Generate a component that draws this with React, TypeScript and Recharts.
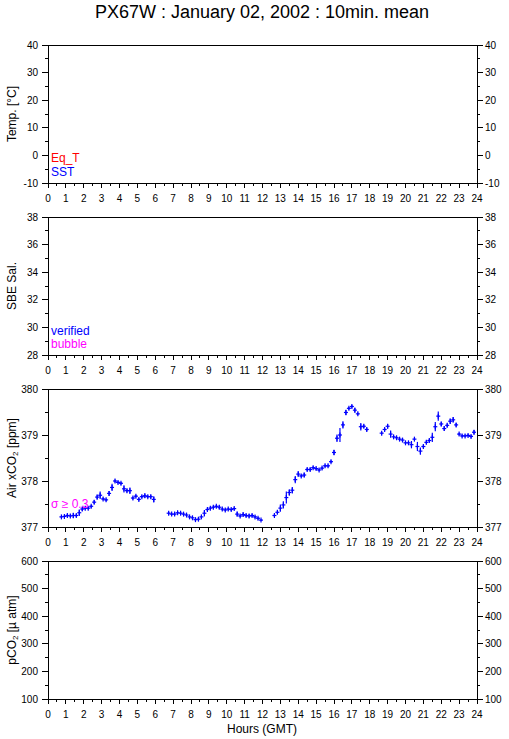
import React from 'react';
import { ScatterChart, Scatter, XAxis, YAxis, ErrorBar } from 'recharts';

// ---------- data ----------
const hourTicks = [0, 0.5, 1, 1.5, 2, 2.5, 3, 3.5, 4, 4.5, 5, 5.5, 6, 6.5, 7, 7.5, 8, 8.5, 9, 9.5, 10, 10.5, 11, 11.5, 12, 12.5, 13, 13.5, 14, 14.5, 15, 15.5, 16, 16.5, 17, 17.5, 18, 18.5, 19, 19.5, 20, 20.5, 21, 21.5, 22, 22.5, 23, 23.5, 24];

const tempTicks = [-10, -5, 0, 5, 10, 15, 20, 25, 30, 35, 40];
const tempLabels = [-10, 0, 10, 20, 30, 40];
const salTicks = [28, 29, 30, 31, 32, 33, 34, 35, 36, 37, 38];
const salLabels = [28, 30, 32, 34, 36, 38];
const xco2Ticks = [377, 377.5, 378, 378.5, 379, 379.5, 380];
const xco2Labels = [377, 378, 379, 380];
const pco2Ticks = [100, 150, 200, 250, 300, 350, 400, 450, 500, 550, 600];
const pco2Labels = [100, 200, 300, 400, 500, 600];

// sample times (hours GMT), 10-minute means
const hours = [
  0.75, 0.917, 1.083, 1.25, 1.417, 1.583, 1.75, 1.917, 2.083, 2.25, 2.417, 2.583, 2.75, 2.917, 3.083, 3.25,
  3.417, 3.583, 3.75, 3.917, 4.083, 4.25, 4.417, 4.583, 4.75, 4.917, 5.083, 5.25, 5.417, 5.583, 5.75, 5.917,
  6.75, 6.917, 7.083, 7.25, 7.417, 7.583, 7.75, 7.917, 8.083, 8.25, 8.417, 8.583, 8.75, 8.917, 9.083, 9.25,
  9.417, 9.583, 9.75, 9.917, 10.083, 10.25, 10.417, 10.583, 10.75, 10.917, 11.083, 11.25, 11.417, 11.583, 11.75, 11.917,
  12.667, 12.833, 13.0, 13.167, 13.333, 13.5, 13.667, 13.833, 14.0, 14.167, 14.333, 14.5, 14.667, 14.833, 15.0, 15.167,
  15.333, 15.5, 15.667, 15.833, 16.0, 16.167, 16.333, 16.5, 16.667, 16.833, 17.0, 17.167, 17.333, 17.5, 17.667, 17.833,
  18.667, 18.833, 19.0, 19.167, 19.333, 19.5, 19.667, 19.833, 20.0, 20.167, 20.333, 20.5, 20.667, 20.833, 21.0, 21.167,
  21.333, 21.5, 21.667, 21.833, 22.0, 22.167, 22.333, 22.5, 22.667, 22.833, 23.0, 23.167, 23.333, 23.5, 23.667, 23.833,
];

// Air xCO2 [ppm]
const xco2 = [
  377.22, 377.23, 377.25, 377.24, 377.25, 377.25, 377.31, 377.39, 377.41, 377.41, 377.45, 377.54, 377.65, 377.69, 377.61, 377.59,
  377.73, 377.86, 378.0, 377.97, 377.95, 377.83, 377.79, 377.79, 377.63, 377.67, 377.6, 377.66, 377.68, 377.66, 377.66, 377.6,
  377.3, 377.28, 377.28, 377.31, 377.3, 377.28, 377.26, 377.22, 377.2, 377.16, 377.17, 377.22, 377.3, 377.38, 377.41, 377.43,
  377.45, 377.43, 377.39, 377.37, 377.39, 377.38, 377.4, 377.28, 377.24, 377.27, 377.25, 377.24, 377.25, 377.22, 377.19, 377.15,
  377.25, 377.32, 377.41, 377.48, 377.64, 377.75, 377.8, 378.03, 378.15, 378.11, 378.13, 378.25, 378.25, 378.29, 378.27, 378.24,
  378.28, 378.33, 378.33, 378.42, 378.62, 378.93, 379.0, 379.22, 379.49, 379.58, 379.62, 379.54, 379.46, 379.18, 379.19, 379.12,
  379.04, 379.12, 379.19, 379.02, 378.96, 378.94, 378.91, 378.89, 378.83, 378.83, 378.79, 378.91, 378.75, 378.65, 378.75, 378.84,
  378.88, 378.95, 379.18, 379.41, 379.24, 379.14, 379.21, 379.3, 379.33, 379.22, 379.02, 378.98, 378.98, 378.99, 378.97, 379.06,
];

// standard deviation of each 10-min mean [ppm]
const xco2Sd = [
  0.02, 0.02, 0.03, 0.03, 0.06, 0.03, 0.07, 0.04, 0.03, 0.03, 0.03, 0.04, 0.05, 0.08, 0.03, 0.03,
  0.05, 0.08, 0.03, 0.03, 0.03, 0.08, 0.04, 0.07, 0.03, 0.03, 0.03, 0.03, 0.05, 0.03, 0.04, 0.07,
  0.03, 0.03, 0.03, 0.03, 0.03, 0.03, 0.03, 0.03, 0.03, 0.03, 0.04, 0.03, 0.07, 0.03, 0.03, 0.03,
  0.03, 0.04, 0.03, 0.03, 0.03, 0.03, 0.03, 0.05, 0.03, 0.04, 0.03, 0.04, 0.03, 0.03, 0.03, 0.02,
  0.03, 0.04, 0.08, 0.08, 0.13, 0.07, 0.07, 0.08, 0.06, 0.03, 0.05, 0.03, 0.03, 0.03, 0.03, 0.03,
  0.03, 0.03, 0.03, 0.03, 0.06, 0.08, 0.15, 0.08, 0.06, 0.03, 0.03, 0.05, 0.03, 0.08, 0.04, 0.04,
  0.03, 0.03, 0.05, 0.08, 0.03, 0.03, 0.04, 0.04, 0.03, 0.03, 0.08, 0.03, 0.1, 0.08, 0.04, 0.04,
  0.04, 0.1, 0.1, 0.1, 0.05, 0.05, 0.04, 0.06, 0.06, 0.04, 0.03, 0.03, 0.03, 0.03, 0.03, 0.05,
];

const eqTemp: { h: number; v: number }[] = [];
const sst: { h: number; v: number }[] = [];
const salVerified: { h: number; v: number }[] = [];
const salBubble: { h: number; v: number }[] = [];
const pco2: { h: number; v: number }[] = [];

const xco2Data = hours.map((h, i) => ({ h, v: xco2[i], e: xco2Sd[i] }));

// ---------- styling ----------
const FONT = '"Liberation Sans", Arial, Helvetica, sans-serif';
const BLUE = '#0000ff';
const MAGENTA = '#ff00ff';
const RED = '#ff0000';

const W = 509;
const PLOT_LEFT = 48;
const PLOT_RIGHT = 477;
const PLOT_H = 138;
const TOP_AX = 10;
const BOT_AX = 30;

const XTickBottom = (props: any) => {
  const { x, y, payload } = props;
  const v = payload.value;
  const major = Number.isInteger(v);
  return (
    <g>
      <line x1={x} x2={x} y1={y} y2={y + (major ? 5 : 3)} stroke="#000" shapeRendering="crispEdges" />
      {major && (
        <text x={x} y={y + 19} textAnchor="middle" fontSize={10} fontFamily={FONT} fill="#000">
          {v}
        </text>
      )}
    </g>
  );
};

const XTickTop = (props: any) => {
  const { x, y, payload } = props;
  const major = Number.isInteger(payload.value);
  return <line x1={x} x2={x} y1={y} y2={y - (major ? 5 : 3)} stroke="#000" shapeRendering="crispEdges" />;
};

const makeYTick = (labels: number[], side: 'left' | 'right') => (props: any) => {
  const { x, y, payload } = props;
  const v = payload.value;
  const major = labels.includes(v);
  const len = major ? 6 : 3;
  const s = side === 'left' ? -1 : 1;
  return (
    <g>
      <line x1={x} x2={x + s * len} y1={y} y2={y} stroke="#000" shapeRendering="crispEdges" />
      {major && (
        <text
          x={side === 'left' ? x - 10 : x + 8}
          y={y}
          dy="0.35em"
          textAnchor={side === 'left' ? 'end' : 'start'}
          fontSize={10}
          fontFamily={FONT}
          fill="#000"
        >
          {v}
        </text>
      )}
    </g>
  );
};

const Cross = (props: any) => {
  const { cx, cy } = props;
  if (cx == null || cy == null) return <g />;
  return (
    <g>
      <line x1={cx - 2} x2={cx + 2} y1={cy} y2={cy} stroke={BLUE} strokeWidth={1.2} />
      <line x1={cx} x2={cx} y1={cy - 2.5} y2={cy + 2.5} stroke={BLUE} strokeWidth={1.2} />
    </g>
  );
};

type PanelProps = {
  top: number;
  domain: [number, number];
  ticks: number[];
  labels: number[];
  children?: React.ReactNode;
};

const axisLine = { stroke: '#000', strokeWidth: 1, shapeRendering: 'crispEdges' } as any;

const Panel = ({ top, domain, ticks, labels, children }: PanelProps) => (
  <div style={{ position: 'absolute', left: 0, top: top - TOP_AX }}>
    <ScatterChart
      width={W}
      height={TOP_AX + PLOT_H + BOT_AX}
      margin={{ top: 0, right: 0, bottom: 0, left: 0 }}
      style={{ overflow: 'visible' }}
    >
      <XAxis
        xAxisId="bottom"
        dataKey="h"
        type="number"
        domain={[0, 24]}
        ticks={hourTicks}
        interval={0}
        orientation="bottom"
        height={BOT_AX}
        tickSize={0}
        tickMargin={0}
        tickLine={false}
        axisLine={axisLine}
        tick={<XTickBottom />}
        allowDataOverflow
      />
      <XAxis
        xAxisId="top"
        type="number"
        domain={[0, 24]}
        ticks={hourTicks}
        interval={0}
        orientation="top"
        height={TOP_AX}
        tickSize={0}
        tickMargin={0}
        tickLine={false}
        axisLine={axisLine}
        tick={<XTickTop />}
        allowDataOverflow
      />
      <YAxis
        yAxisId="left"
        dataKey="v"
        type="number"
        domain={domain}
        ticks={ticks}
        interval={0}
        orientation="left"
        width={PLOT_LEFT}
        tickSize={0}
        tickMargin={0}
        tickLine={false}
        axisLine={axisLine}
        tick={makeYTick(labels, 'left')}
        allowDataOverflow
      />
      <YAxis
        yAxisId="right"
        type="number"
        domain={domain}
        ticks={ticks}
        interval={0}
        orientation="right"
        width={W - PLOT_RIGHT}
        tickSize={0}
        tickMargin={0}
        tickLine={false}
        axisLine={axisLine}
        tick={makeYTick(labels, 'right')}
        allowDataOverflow
      />
      {children}
    </ScatterChart>
  </div>
);

const AxisTitle = ({ cy, children }: { cy: number; children: React.ReactNode }) => (
  <text
    x={0}
    y={0}
    transform={`translate(12, ${cy}) rotate(-90)`}
    textAnchor="middle"
    dominantBaseline="central"
    fontSize={12}
    fontFamily={FONT}
    fill="#000"
  >
    {children}
  </text>
);

export default function App() {
  return (
    <div style={{ position: 'absolute', left: 0, top: 0, width: W, height: 739, background: '#fff', overflow: 'hidden' }}>
      <Panel top={45} domain={[-10, 40]} ticks={tempTicks} labels={tempLabels}>
        <Scatter name="Eq_T" data={eqTemp} xAxisId="bottom" yAxisId="left" fill={RED} isAnimationActive={false} />
        <Scatter name="SST" data={sst} xAxisId="bottom" yAxisId="left" fill={BLUE} isAnimationActive={false} />
      </Panel>
      <Panel top={217} domain={[28, 38]} ticks={salTicks} labels={salLabels}>
        <Scatter name="verified" data={salVerified} xAxisId="bottom" yAxisId="left" fill={BLUE} isAnimationActive={false} />
        <Scatter name="bubble" data={salBubble} xAxisId="bottom" yAxisId="left" fill={MAGENTA} isAnimationActive={false} />
      </Panel>
      <Panel top={389} domain={[377, 380]} ticks={xco2Ticks} labels={xco2Labels}>
        <Scatter
          name="Air xCO2"
          data={xco2Data}
          xAxisId="bottom"
          yAxisId="left"
          fill={BLUE}
          shape={Cross}
          isAnimationActive={false}
        >
          <ErrorBar dataKey="e" direction="y" width={0} stroke={BLUE} strokeWidth={1.2} isAnimationActive={false} />
        </Scatter>
      </Panel>
      <Panel top={561} domain={[100, 600]} ticks={pco2Ticks} labels={pco2Labels}>
        <Scatter name="pCO2" data={pco2} xAxisId="bottom" yAxisId="left" fill={BLUE} isAnimationActive={false} />
      </Panel>

      <svg width={W} height={739} style={{ position: 'absolute', left: 0, top: 0, pointerEvents: 'none' }}>
        <text x={262} y={18} textAnchor="middle" fontSize={18} fontFamily={FONT} fill="#000">
          PX67W : January 02, 2002 : 10min. mean
        </text>

        <AxisTitle cy={114}>Temp. [°C]</AxisTitle>
        <AxisTitle cy={286}>SBE Sal.</AxisTitle>
        <AxisTitle cy={458}>
          Air xCO<tspan dy={3} fontSize={8}>2</tspan>
          <tspan dy={-3}> [ppm]</tspan>
        </AxisTitle>
        <AxisTitle cy={630}>
          pCO<tspan dy={3} fontSize={8}>2</tspan>
          <tspan dy={-3}> [µ atm]</tspan>
        </AxisTitle>

        <text x={51} y={158} dy="0.35em" fontSize={12} fontFamily={FONT} fill={RED}>Eq_T</text>
        <text x={51} y={172} dy="0.35em" fontSize={12} fontFamily={FONT} fill={BLUE}>SST</text>
        <text x={51} y={331} dy="0.35em" fontSize={12} fontFamily={FONT} fill={BLUE}>verified</text>
        <text x={51} y={344} dy="0.35em" fontSize={12} fontFamily={FONT} fill={MAGENTA}>bubble</text>
        <text x={51} y={504} dy="0.35em" fontSize={12} fontFamily={FONT} fill={MAGENTA}>σ ≥ 0.3</text>

        <text x={262} y={733} textAnchor="middle" fontSize={12} fontFamily={FONT} fill="#000">
          Hours (GMT)
        </text>
      </svg>
    </div>
  );
}
